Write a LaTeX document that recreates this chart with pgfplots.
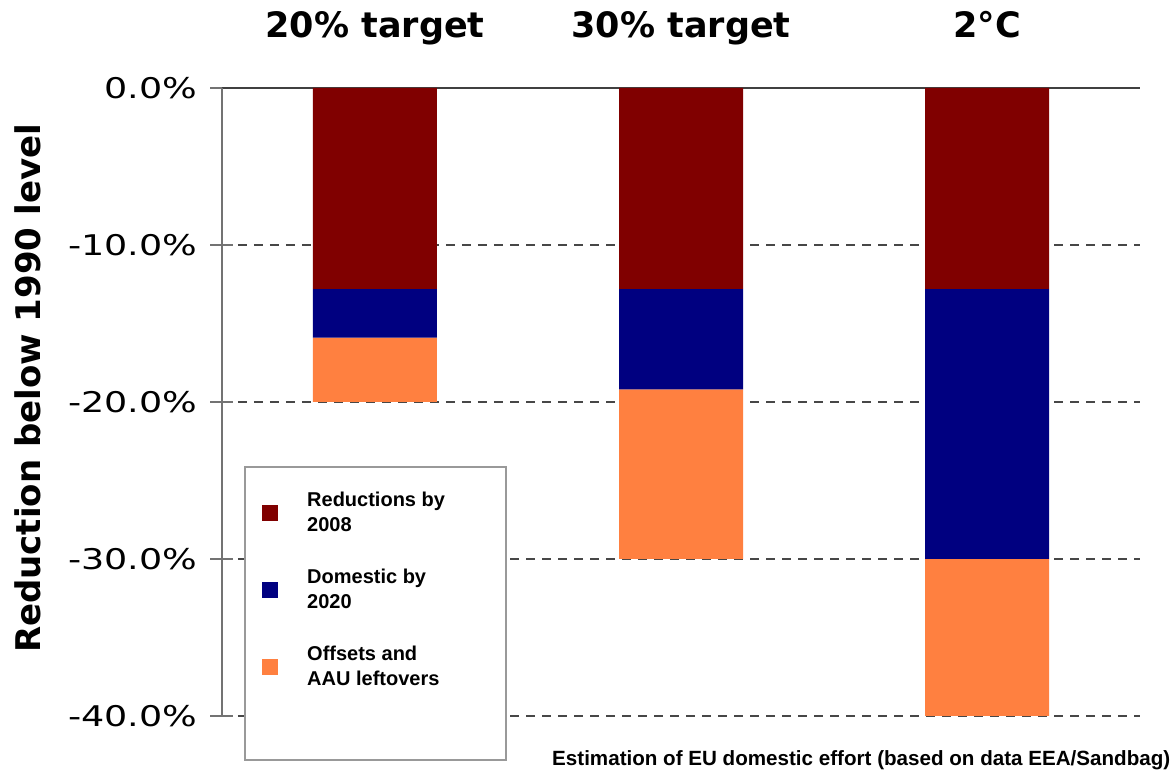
\documentclass[border=0pt]{standalone}
\usepackage{fontspec}
\usepackage{pgfplots}
\pgfplotsset{compat=1.18}
\setmainfont{DejaVu Sans}
\newfontfamily\tickfont{DejaVu Sans}[FakeStretch=1.28]
\newfontfamily\legfont{Liberation Sans}
\definecolor{c1}{RGB}{128,0,0}
\definecolor{c2}{RGB}{0,0,128}
\definecolor{c3}{RGB}{255,128,64}
\begin{document}
\begin{tikzpicture}
\begin{axis}[
  scale only axis, width=918pt, height=628pt,
  xmin=-0.5, xmax=2.5, ymin=-40, ymax=0,
  clip=false,
  axis x line*=top, axis y line*=left,
  axis line style={line width=1.8pt, color=black!55},
  x axis line style={color=black!75},
  ybar stacked, bar width=124pt,
  xtick={0,1,2},
  xticklabels={20\% target, 30\% target, 2°C},
  major x tick style={draw=none},
  xticklabel style={font=\bfseries\fontsize{35}{40}\selectfont, anchor=base, yshift=39pt, inner sep=0pt},
  ytick={-40,-30,-20,-10,0},
  yticklabels={-40.0\%,-30.0\%,-20.0\%,-10.0\%,0.0\%},
  yticklabel style={font=\tickfont\fontsize{28.5}{30}\selectfont, inner sep=0pt, anchor=east, xshift=-13pt},
  major tick length=23pt, tick align=center,
  major y tick style={line width=1.5pt, color=black!55},
  ymajorgrids,
  major grid style={line width=2pt, color=black!72, dash pattern=on 9pt off 7pt},
  ylabel={Reduction below 1990 level},
  ylabel style={font=\bfseries\fontsize{34}{40}\selectfont, at={(rel axis cs:-0.1972,0.5215)}, anchor=base},
  legend image code/.code={\fill[#1,draw=none] (0pt,-8pt) rectangle (16pt,8pt);},
  legend style={draw=none, fill=none, at={(rel axis cs:0.0436,0.3599)}, anchor=north west, inner sep=0pt, row sep=32pt,
    font=\legfont\bfseries\fontsize{20}{25}\selectfont,
    cells={align=left, anchor=west, inner sep=0pt},
    /tikz/every odd column/.append style={column sep=27pt}},
]
\addplot[fill=c1, draw=none] coordinates {(0,-12.8) (1,-12.8) (2,-12.8)};
\addplot[fill=c2, draw=none] coordinates {(0,-3.1) (1,-6.4) (2,-17.2)};
\addplot[fill=c3, draw=none] coordinates {(0,-4.1) (1,-10.8) (2,-10.0)};
\addlegendentry{Reductions by\\2008}
\addlegendentry{Domestic by\\2020}
\addlegendentry{Offsets and\\AAU leftovers}
\draw[draw=black!40, line width=1.5pt, fill=white] (rel axis cs:0.02505,0.3965) rectangle (rel axis cs:0.3094,-0.0701);
\node[anchor=base west, inner sep=0pt, font=\legfont\bfseries\fontsize{20.6}{24}\selectfont] at (rel axis cs:0.3595,-0.0796) {Estimation of EU domestic effort (based on data EEA/Sandbag)};
\coordinate (O) at (rel axis cs:0,0);
\end{axis}
\pgfresetboundingbox
\path (O) ++(-222pt,-55pt) rectangle ++(1173pt,771pt);
\end{tikzpicture}
\end{document}
